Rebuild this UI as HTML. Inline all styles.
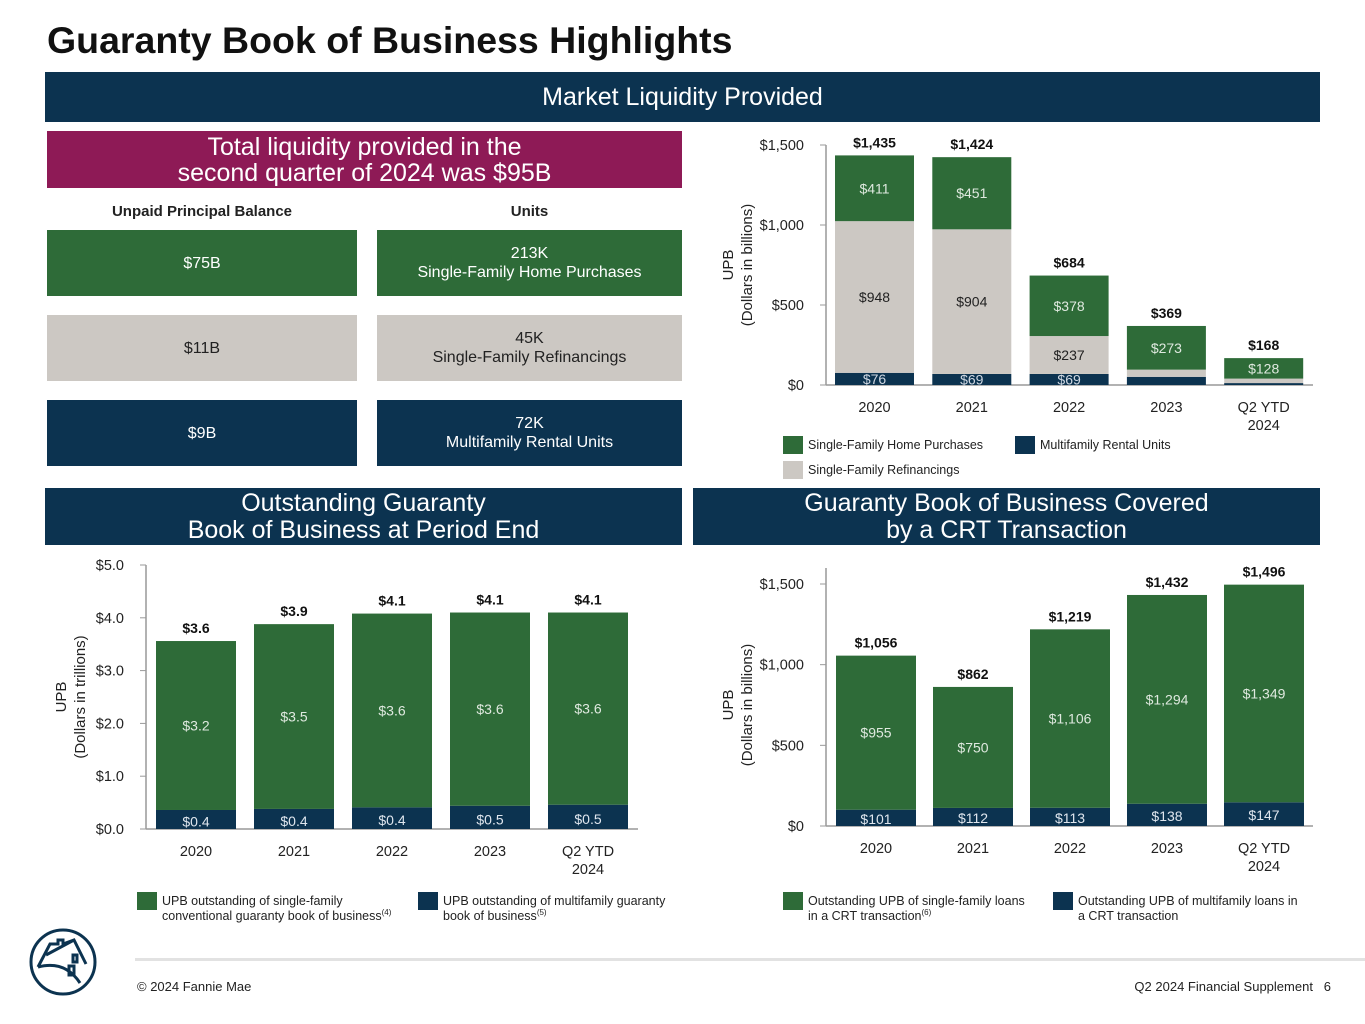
<!DOCTYPE html>
<html><head><meta charset="utf-8">
<style>
body{margin:0;width:1365px;height:1024px;background:#fff;font-family:"Liberation Sans",Arial,sans-serif;overflow:hidden;position:relative}
.a{position:absolute;box-sizing:border-box}
.hdr{background:#0c3350;color:#fff;text-align:center;font-size:25px;line-height:27px;display:flex;align-items:center;justify-content:center}
.box{color:#fff;font-size:16px;display:flex;align-items:center;justify-content:center;text-align:center;line-height:19px}
.g{background:#2e6b38}.gr{background:#ccc8c3;color:#222}.n{background:#0c3350}
svg{position:absolute;left:0;top:0}
</style></head><body>
<div class="a" style="left:47px;top:19px;font-size:37.5px;font-weight:bold;color:#111">Guaranty Book of Business Highlights</div>
<div class="a hdr" style="left:45px;top:72px;width:1275px;height:50px">Market Liquidity Provided</div>
<div class="a box" style="left:47px;top:131px;width:635px;height:57px;background:#8e1a56;font-size:25px;line-height:26px">Total liquidity provided in the<br>second quarter of 2024 was $95B</div>
<div class="a" style="left:47px;top:203px;width:310px;text-align:center;font-weight:bold;font-size:15px;color:#222">Unpaid Principal Balance</div>
<div class="a" style="left:377px;top:203px;width:305px;text-align:center;font-weight:bold;font-size:15px;color:#222">Units</div>
<div class="a box g" style="left:47px;top:230px;width:310px;height:66px">$75B</div>
<div class="a box g" style="left:377px;top:230px;width:305px;height:66px">213K<br>Single-Family Home Purchases</div>
<div class="a box gr" style="left:47px;top:315px;width:310px;height:66px">$11B</div>
<div class="a box gr" style="left:377px;top:315px;width:305px;height:66px">45K<br>Single-Family Refinancings</div>
<div class="a box n" style="left:47px;top:400px;width:310px;height:66px">$9B</div>
<div class="a box n" style="left:377px;top:400px;width:305px;height:66px">72K<br>Multifamily Rental Units</div>
<div class="a hdr" style="left:45px;top:488px;width:637px;height:57px">Outstanding Guaranty<br>Book of Business at Period End</div>
<div class="a hdr" style="left:693px;top:488px;width:627px;height:57px">Guaranty Book of Business Covered<br>by a CRT Transaction</div>
<div class="a" style="left:135px;top:958px;width:1230px;height:3px;background:#e2e2e2"></div>
<div class="a" style="left:137px;top:979px;font-size:13px;color:#222">© 2024 Fannie Mae</div>
<div class="a" style="left:1100px;top:979px;width:231px;text-align:right;font-size:13px;color:#222">Q2 2024 Financial Supplement &nbsp; 6</div>
<svg width="1365" height="1024" id="svg">
<g fill="none" stroke="#0c3350" stroke-width="3">
<circle cx="63" cy="962" r="32"/>
<path d="M38 967 L50 944 L58 944 L58 940 L63 940 L63 944 L74 940 L86 964 M38 967 Q65 960 80 983 M46 955 L74 940"/>
<rect x="73" y="955" width="4" height="7"/><rect x="69" y="966" width="5" height="9"/>
</g>
</svg>
<script>
// Chart 1: Market liquidity (billions)
const cats = ["2020","2021","2022","2023","Q2 YTD|2024"];
const liqMF = [76,69,69,51,12];
const liqRefi = [948,904,237,45,28];
const liqPurch = [411,451,378,273,128];
const liqTotals = ["$1,435","$1,424","$684","$369","$168"];
const liqMFLbl = ["$76","$69","$69","",""];
const liqRefiLbl = ["$948","$904","$237","",""];
const liqPurchLbl = ["$411","$451","$378","$273","$128"];
const liqTicks = [0,500,1000,1500];
const liqTickLbl = ["$0","$500","$1,000","$1,500"];
// Chart 2: Outstanding book (trillions)
const obMF = [0.36,0.38,0.41,0.44,0.46];
const obSF = [3.2,3.5,3.67,3.66,3.64];
const obTotals = ["$3.6","$3.9","$4.1","$4.1","$4.1"];
const obMFLbl = ["$0.4","$0.4","$0.4","$0.5","$0.5"];
const obSFLbl = ["$3.2","$3.5","$3.6","$3.6","$3.6"];
const obTicks = [0,1,2,3,4,5];
const obTickLbl = ["$0.0","$1.0","$2.0","$3.0","$4.0","$5.0"];
// Chart 3: CRT (billions)
const crtMF = [101,112,113,138,147];
const crtSF = [955,750,1106,1294,1349];
const crtTotals = ["$1,056","$862","$1,219","$1,432","$1,496"];
const crtMFLbl = ["$101","$112","$113","$138","$147"];
const crtSFLbl = ["$955","$750","$1,106","$1,294","$1,349"];
const crtTicks = [0,500,1000,1500];
const crtTickLbl = ["$0","$500","$1,000","$1,500"];

const NS="http://www.w3.org/2000/svg";
const svg=document.getElementById('svg');
function el(t,a,txt){const e=document.createElementNS(NS,t);for(const k in a)e.setAttribute(k,a[k]);if(txt!==undefined)e.textContent=txt;svg.appendChild(e);return e;}
const GREEN="#2e6b38",GRAY="#ccc8c3",NAVY="#0c3350";

function chart(o){
  const y=v=>o.y0-(v/o.max)*(o.y0-o.yTop);
  const lineTop=o.axisTop||o.yTop;
  let e=el('line',{x1:o.ax,y1:lineTop,x2:o.ax,y2:o.y0,stroke:'#999','stroke-width':1.5});
  
  
  e=el('line',{x1:o.ax,y1:o.y0,x2:o.ax2,y2:o.y0,stroke:'#999','stroke-width':1.5});
  
  
  o.ticks.forEach((t,i)=>{
    el('line',{x1:o.ax-6,y1:y(t),x2:o.ax,y2:y(t),stroke:'#999'});
    e=el('text',{x:o.ax-22,y:y(t)+5,'text-anchor':'end','font-size':14.5,fill:'#222'},o.tickLbl[i]);
    
    
  });
  cats.forEach((c,i)=>{
    const x=o.x0+i*o.step, cx=x+o.bw/2;
    let base=0;
    o.series.forEach((s,si)=>{
      const v=s.vals[i];
      const r=el('rect',{x:x,y:y(base+v),width:o.bw,height:y(base)-y(base+v),fill:s.color});
      
      
      const l=s.lbl[i];
      if(l){const ty=(y(base)+y(base+v))/2+(s.off||0)+5;
        const t=el('text',{x:cx,y:ty,'text-anchor':'middle','font-size':14,fill:s.tc},l);
        
        }
      base+=v;
    });
    const tt=el('text',{x:cx,y:y(base)-8,'text-anchor':'middle','font-size':14,'font-weight':'bold',fill:'#111'},o.totals[i]);
    
    
    c.split('|').forEach((p,k)=>{
      const xl=el('text',{x:cx,y:o.y0+27+k*18,'text-anchor':'middle','font-size':14.5,fill:'#222'},p);
      
      
    });
  });
  if(o.ytitle){
    const g=document.createElementNS(NS,'g');
    g.setAttribute('transform','translate('+o.tx+','+((o.y0+o.yTop)/2)+') rotate(-90)');
    
    
    svg.appendChild(g);
    [['UPB',-9],[o.ytitle,10]].forEach(([s,d])=>{const t=document.createElementNS(NS,'text');t.setAttribute('x',0);t.setAttribute('y',d);t.setAttribute('text-anchor','middle');t.setAttribute('font-size',15);t.setAttribute('fill','#222');t.textContent=s;g.appendChild(t);});
  }
}
chart({name:'liquidity',x0:835,step:97.3,bw:79,ax:826,ax2:1313,y0:385,yTop:145,max:1500,ticks:liqTicks,tickLbl:liqTickLbl,totals:liqTotals,tx:742,ytitle:'(Dollars in billions)',
  series:[{key:'multifamily',vals:liqMF,color:NAVY,lbl:liqMFLbl,tc:'#cfd8e3'},{key:'refinancings',vals:liqRefi,color:GRAY,lbl:liqRefiLbl,tc:'#222'},{key:'purchases',vals:liqPurch,color:GREEN,lbl:liqPurchLbl,tc:'#dfe9df'}]});
chart({name:'outstanding',x0:156,step:98,bw:80,ax:146,ax2:638,y0:829,yTop:565,max:5,ticks:obTicks,tickLbl:obTickLbl,totals:obTotals,tx:75,ytitle:'(Dollars in trillions)',
  series:[{key:'multifamily',vals:obMF,color:NAVY,lbl:obMFLbl,tc:'#dfe6ee',off:2},{key:'single-family',vals:obSF,color:GREEN,lbl:obSFLbl,tc:'#dfe9df'}]});
chart({name:'crt',x0:836,step:97,bw:80,ax:826,ax2:1313,y0:826,yTop:584,axisTop:568,max:1500,ticks:crtTicks,tickLbl:crtTickLbl,totals:crtTotals,tx:742,ytitle:'(Dollars in billions)',
  series:[{key:'multifamily',vals:crtMF,color:NAVY,lbl:crtMFLbl,tc:'#dfe6ee',off:1},{key:'single-family',vals:crtSF,color:GREEN,lbl:crtSFLbl,tc:'#dfe9df'}]});

function leg(x,y,color,lines,name,sup){
  const r=el('rect',{x:x,y:y,width:20,height:18,fill:color});
  
  
  lines.forEach((l,k)=>{
    const t=el('text',{x:x+25,y:y+13+k*15,'font-size':12.5,fill:'#222'},l);
    
    
    if(sup&&k===lines.length-1){const s=document.createElementNS(NS,'tspan');s.setAttribute('font-size',8);s.setAttribute('dy',-5);s.textContent=sup;t.appendChild(s);}
  });
}
leg(783,436,GREEN,['Single-Family Home Purchases'],'legend-purchases');
leg(1015,436,NAVY,['Multifamily Rental Units'],'legend-multifamily');
leg(783,461,GRAY,['Single-Family Refinancings'],'legend-refinancings');
leg(137,892,GREEN,['UPB outstanding of single-family','conventional guaranty book of business'],'legend-outstanding-sf','(4)');
leg(418,892,NAVY,['UPB outstanding of multifamily guaranty','book of business'],'legend-outstanding-mf','(5)');
leg(783,892,GREEN,['Outstanding UPB of single-family loans','in a CRT transaction'],'legend-crt-sf','(6)');
leg(1053,892,NAVY,['Outstanding UPB of multifamily loans in','a CRT transaction'],'legend-crt-mf');
</script>
</body></html>
